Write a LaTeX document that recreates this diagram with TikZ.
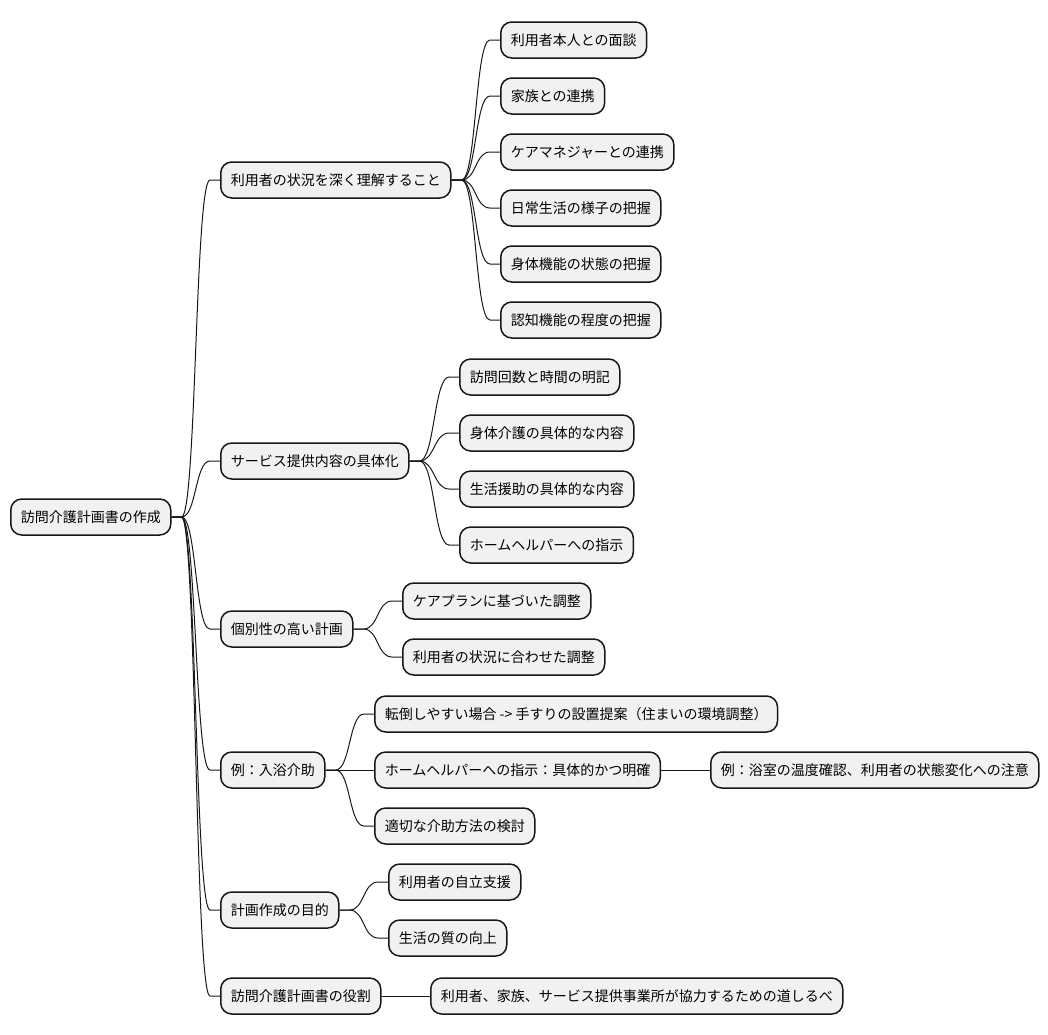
\documentclass[tikz,border=0pt]{standalone}
\usepackage{fontspec}
\setmainfont{Noto Sans CJK JP}
\usetikzlibrary{calc}
\definecolor{boxfill}{HTML}{F1F1F1}
\definecolor{boxline}{HTML}{181818}
\tikzset{
  mm/.style={draw=boxline, fill=boxfill, line width=1.5pt, rounded corners=11pt,
    anchor=west, minimum height=36pt, inner xsep=10pt, inner ysep=0pt,
    font=\fontsize{14}{16}\selectfont, text=black},
  conn/.style={draw=boxline, line width=1pt}
}
\newcommand\mmconn[2]{\draw[conn] (#1.east) -- ++(10,0) .. controls +(15,0) and +(-15,0) .. ([xshift=-10pt]#2.west) -- (#2.west);}
\begin{document}
\begin{tikzpicture}[x=1pt,y=-1pt]
\useasboundingbox (0,0) rectangle (1048,1034);
\node[mm] (r) at (10,517) {訪問介護計画書の作成};
\node[mm] (a) at (220,180) {利用者の状況を深く理解すること};
\node[mm] (a1) at (500,40) {利用者本人との面談};
\node[mm] (a2) at (500,96) {家族との連携};
\node[mm] (a3) at (500,152) {ケアマネジャーとの連携};
\node[mm] (a4) at (500,208) {日常生活の様子の把握};
\node[mm] (a5) at (500,264) {身体機能の状態の把握};
\node[mm] (a6) at (500,320) {認知機能の程度の把握};
\node[mm] (b) at (220,461) {サービス提供内容の具体化};
\node[mm] (b1) at (459,377) {訪問回数と時間の明記};
\node[mm] (b2) at (459,433) {身体介護の具体的な内容};
\node[mm] (b3) at (459,489) {生活援助の具体的な内容};
\node[mm] (b4) at (459,545) {ホームヘルパーへの指示};
\node[mm] (c) at (220,629) {個別性の高い計画};
\node[mm] (c1) at (402,601) {ケアプランに基づいた調整};
\node[mm] (c2) at (402,657) {利用者の状況に合わせた調整};
\node[mm] (d) at (220,770) {例：入浴介助};
\node[mm] (d1) at (374,714) {転倒しやすい場合 -> 手すりの設置提案（住まいの環境調整）};
\node[mm] (d2) at (374,770) {ホームヘルパーへの指示：具体的かつ明確};
\node[mm] (d21) at (710,770) {例：浴室の温度確認、利用者の状態変化への注意};
\node[mm] (d3) at (374,826) {適切な介助方法の検討};
\node[mm] (e) at (220,910) {計画作成の目的};
\node[mm] (e1) at (388,882) {利用者の自立支援};
\node[mm] (e2) at (388,938) {生活の質の向上};
\node[mm] (f) at (220,996) {訪問介護計画書の役割};
\node[mm] (f1) at (430,996) {利用者、家族、サービス提供事業所が協力するための道しるべ};
\foreach \c in {a,b,c,d,e,f} {\mmconn{r}{\c}}
\foreach \c in {a1,a2,a3,a4,a5,a6} {\mmconn{a}{\c}}
\foreach \c in {b1,b2,b3,b4} {\mmconn{b}{\c}}
\foreach \c in {c1,c2} {\mmconn{c}{\c}}
\foreach \c in {d1,d2,d3} {\mmconn{d}{\c}}
\mmconn{d2}{d21}
\foreach \c in {e1,e2} {\mmconn{e}{\c}}
\mmconn{f}{f1}
\end{tikzpicture}
\end{document}
